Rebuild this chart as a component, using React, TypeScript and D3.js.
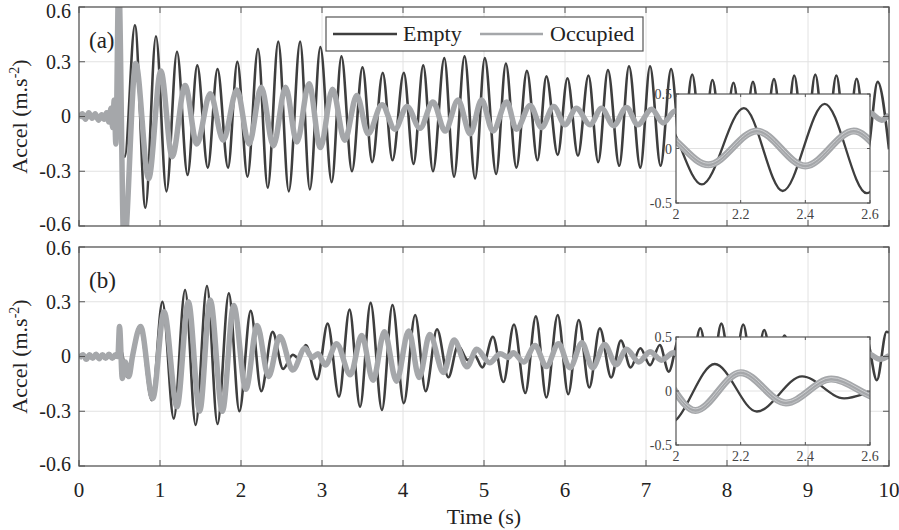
import * as d3 from 'd3';

type Pt = [number, number];

// extremes (time s, accel m/s^2), panel (a)
const emptyA: Pt[] = [
  [0, 0], [0.2, 0.003], [0.45, 0], [0.565, -0.22], [0.69, 0.5], [0.82, -0.5], [0.95, 0.44],
  [1.08, -0.41], [1.21, 0.355], [1.34, -0.32], [1.46, 0.28], [1.59, -0.28], [1.71, 0.26],
  [1.84, -0.28], [1.955, 0.3], [2.08, -0.33], [2.21, 0.37], [2.33, -0.39], [2.46, 0.41],
  [2.59, -0.41], [2.73, 0.41], [2.85, -0.4], [2.98, 0.38], [3.12, -0.36], [3.24, 0.33],
  [3.37, -0.3], [3.5, 0.27], [3.62, -0.25], [3.75, 0.24], [3.87, -0.24], [4.01, 0.24],
  [4.13, -0.26], [4.25, 0.28], [4.37, -0.3], [4.51, 0.32], [4.63, -0.33], [4.76, 0.33],
  [4.89, -0.34], [5.01, 0.32], [5.15, -0.315], [5.27, 0.29], [5.4, -0.28], [5.53, 0.25],
  [5.66, -0.24], [5.77, 0.22], [5.91, -0.21], [6.03, 0.21], [6.16, -0.215], [6.29, 0.225],
  [6.41, -0.25], [6.53, 0.255], [6.67, -0.27], [6.79, 0.275], [6.93, -0.28], [7.05, 0.275],
  [7.18, -0.27], [7.31, 0.26], [7.44, -0.25], [7.57, 0.23], [7.7, -0.22], [7.82, 0.2],
  [7.95, -0.19], [8.08, 0.185], [8.2, -0.18], [8.32, 0.19], [8.45, -0.2], [8.58, 0.205],
  [8.71, -0.215], [8.83, 0.225], [8.96, -0.23], [9.09, 0.23], [9.22, -0.225], [9.35, 0.225],
  [9.48, -0.215], [9.6, 0.207], [9.73, -0.195], [9.86, 0.19], [10, -0.18],
];

const occupiedA: Pt[] = [
  [0, -0.01], [0.04, 0.015], [0.08, -0.015], [0.12, 0.02], [0.16, -0.01], [0.2, 0.015],
  [0.24, -0.02], [0.28, 0.01], [0.31, -0.015], [0.34, 0.02], [0.37, -0.03], [0.395, 0.045],
  [0.415, -0.06], [0.435, 0.09], [0.455, -0.15], [0.49, 0.75], [0.555, -0.72], [0.7, 0.29],
  [0.86, -0.34], [1.01, 0.25], [1.15, -0.22], [1.31, 0.17], [1.455, -0.15], [1.62, 0.125],
  [1.78, -0.13], [1.95, 0.145], [2.1, -0.15], [2.25, 0.16], [2.4, -0.16], [2.55, 0.16],
  [2.69, -0.14], [2.84, 0.18], [2.98, -0.17], [3.13, 0.15], [3.28, -0.13], [3.43, 0.115],
  [3.57, -0.095], [3.74, 0.065], [3.9, -0.07], [4.05, 0.055], [4.21, -0.065], [4.37, 0.08],
  [4.52, -0.08], [4.68, 0.09], [4.83, -0.095], [4.97, 0.09], [5.11, -0.08], [5.28, 0.08],
  [5.4, -0.07], [5.57, 0.06], [5.71, -0.06], [5.86, 0.055], [6.0, -0.045], [6.14, 0.045],
  [6.31, -0.045], [6.45, 0.045], [6.6, -0.05], [6.76, 0.05], [6.9, -0.045], [7.07, 0.04],
  [7.21, -0.035], [7.36, 0.03], [7.51, -0.03], [7.66, 0.025], [7.81, -0.025], [7.96, 0.025],
  [8.11, -0.025], [8.26, 0.025], [8.41, -0.025], [8.56, 0.025], [8.71, -0.025], [8.86, 0.02],
  [9.01, -0.02], [9.16, 0.02], [9.31, -0.02], [9.46, 0.02], [9.61, -0.02], [9.76, 0.02],
  [9.91, -0.02], [10, 0.01],
];

// panel (b)
const emptyB: Pt[] = [
  [0, 0], [0.3, 0.003], [0.48, 0], [0.52, 0.03], [0.59, -0.11], [0.75, 0.167], [0.9, -0.24],
  [1.03, 0.3], [1.17, -0.34], [1.31, 0.364], [1.44, -0.375], [1.58, 0.386], [1.71, -0.37],
  [1.85, 0.346], [1.98, -0.3], [2.12, 0.25], [2.25, -0.19], [2.39, 0.135], [2.52, -0.068],
  [2.64, 0.01], [2.71, -0.01], [2.8, 0.063], [2.94, -0.125], [3.07, 0.18], [3.21, -0.22],
  [3.34, 0.257], [3.47, -0.275], [3.6, 0.294], [3.74, -0.293], [3.87, 0.282], [4.01, -0.256],
  [4.15, 0.227], [4.28, -0.19], [4.42, 0.149], [4.56, -0.114], [4.68, 0.06], [4.8, -0.02],
  [4.88, 0.01], [4.98, -0.06], [5.11, 0.108], [5.24, -0.14], [5.37, 0.175], [5.51, -0.2],
  [5.64, 0.22], [5.77, -0.225], [5.91, 0.227], [6.04, -0.207], [6.17, 0.2], [6.3, -0.17],
  [6.43, 0.154], [6.57, -0.115], [6.69, 0.088], [6.81, -0.06], [6.93, 0.045], [7.05, -0.047],
  [7.17, 0.063], [7.28, -0.083], [7.41, 0.1], [7.54, -0.12], [7.67, 0.155], [7.8, -0.15],
  [7.93, 0.18], [8.07, -0.16], [8.2, 0.175], [8.33, -0.15], [8.46, 0.145], [8.58, -0.12],
  [8.71, 0.115], [8.84, -0.09], [8.96, 0.085], [9.09, -0.07], [9.21, 0.065], [9.34, -0.07],
  [9.47, 0.08], [9.59, -0.09], [9.72, 0.1], [9.85, -0.13], [9.97, 0.136], [10, 0.13],
];

const occupiedB: Pt[] = [
  [0, -0.01], [0.05, 0.01], [0.09, -0.015], [0.13, 0.01], [0.17, -0.01], [0.21, 0.012],
  [0.25, -0.012], [0.29, 0.01], [0.33, -0.01], [0.37, 0.012], [0.41, -0.01], [0.45, 0.01],
  [0.48, 0], [0.5, 0.165], [0.535, -0.12], [0.57, -0.03], [0.615, -0.11], [0.66, 0],
  [0.76, 0.165], [0.91, -0.23], [1.05, 0.245], [1.21, -0.275], [1.35, 0.3], [1.49, -0.3],
  [1.62, 0.31], [1.77, -0.3], [1.91, 0.28], [2.06, -0.18], [2.2, 0.17], [2.34, -0.11],
  [2.48, 0.11], [2.64, -0.074], [2.79, 0.045], [2.88, -0.005], [2.95, 0.015], [3.04, -0.047],
  [3.18, 0.07], [3.35, -0.1], [3.49, 0.115], [3.63, -0.13], [3.77, 0.135], [3.92, -0.135],
  [4.07, 0.14], [4.2, -0.115], [4.33, 0.12], [4.5, -0.088], [4.63, 0.09], [4.79, -0.056],
  [4.91, 0.04], [5.07, -0.034], [5.2, 0.015], [5.3, -0.005], [5.36, 0.02], [5.49, -0.03],
  [5.63, 0.06], [5.77, -0.055], [5.92, 0.07], [6.06, -0.062], [6.21, 0.075], [6.34, -0.062],
  [6.49, 0.066], [6.63, -0.045], [6.76, 0.04], [6.91, -0.03], [7.05, 0.026], [7.19, -0.02],
  [7.34, 0.02], [7.49, -0.02], [7.64, 0.018], [7.79, -0.018], [7.94, 0.018], [8.09, -0.018],
  [8.24, 0.015], [8.39, -0.015], [8.54, 0.015], [8.69, -0.015], [8.84, 0.015], [8.99, -0.015],
  [9.14, 0.015], [9.29, -0.015], [9.44, 0.015], [9.59, -0.015], [9.74, 0.015], [9.89, -0.015],
  [10, 0.005],
];

const timeTicks = [0, 1, 2, 3, 4, 5, 6, 7, 8, 9, 10];
const accelTicks = [-0.6, -0.3, 0, 0.3, 0.6];
const insetTimeTicks = [2, 2.2, 2.4, 2.6];
const insetAccelTicks = [-0.5, 0, 0.5];

const FONT = '"Liberation Serif", "Times New Roman", serif';
const DARK = '#3e3e3e';
const GREY = '#a5a7aa';
const AXIS = '#555555';
const GRID = '#e2e2e2';

const LEFT = 79;
const RIGHT = 889;
const INSET_L = 676;
const INSET_R = 870;

const x = d3.scaleLinear().domain([0, 10]).range([LEFT, RIGHT]);
const xi = d3.scaleLinear().domain([2, 2.6]).range([INSET_L, INSET_R]);

interface PanelProps {
  id: string;
  top: number;
  bottom: number;
  insetTop: number;
  insetBottom: number;
  label: string;
  empty: Pt[];
  occupied: Pt[];
}

function Panel({ id, top, bottom, insetTop, insetBottom, label, empty, occupied }: PanelProps) {
  const y = d3.scaleLinear().domain([-0.6, 0.6]).range([bottom, top]);
  const yi = d3.scaleLinear().domain([-0.5, 0.5]).range([insetBottom, insetTop]);

  const line = d3
    .line<Pt>()
    .x((d) => x(d[0]))
    .y((d) => y(d[1]))
    .curve(d3.curveMonotoneX);
  const insetLine = d3
    .line<Pt>()
    .x((d) => xi(d[0]))
    .y((d) => yi(d[1]))
    .curve(d3.curveMonotoneX);
  const near = (d: Pt) => d[0] > 1.7 && d[0] < 2.9;
  const occInset = insetLine(occupied.filter(near)) ?? '';

  // keep the outermost tick labels inside the page and apart from the other panel's
  const labelY = (v: number) => {
    if (v === 0.6) return y(v) + (top < 20 ? 4 : 1.5);
    if (v === -0.6) return y(v) - 1.5;
    return y(v);
  };

  return (
    <g>
      <defs>
        <clipPath id={`clip-${id}`}>
          <rect x={LEFT} y={top} width={RIGHT - LEFT} height={bottom - top} />
        </clipPath>
        <clipPath id={`iclip-${id}`}>
          <rect x={INSET_L} y={insetTop} width={INSET_R - INSET_L} height={insetBottom - insetTop} />
        </clipPath>
      </defs>

      {timeTicks.slice(1, -1).map((t) => (
        <line key={`gx${t}`} x1={x(t)} x2={x(t)} y1={top} y2={bottom} stroke={GRID} />
      ))}
      {accelTicks.slice(1, -1).map((v) => (
        <line key={`gy${v}`} x1={LEFT} x2={RIGHT} y1={y(v)} y2={y(v)} stroke={GRID} />
      ))}

      <g clipPath={`url(#clip-${id})`}>
        <path d={line(empty) ?? ''} fill="none" stroke={DARK} strokeWidth={2.6} />
        <path d={line(occupied) ?? ''} fill="none" stroke={GREY} strokeWidth={5.5} strokeLinejoin="round" />
      </g>

      {timeTicks.map((t) => (
        <g key={`tx${t}`} stroke={AXIS}>
          <line x1={x(t)} x2={x(t)} y1={bottom} y2={bottom - 6} />
          <line x1={x(t)} x2={x(t)} y1={top} y2={top + 6} />
        </g>
      ))}
      {accelTicks.map((v) => (
        <g key={`ty${v}`} stroke={AXIS}>
          <line x1={LEFT} x2={LEFT + 6} y1={y(v)} y2={y(v)} />
          <line x1={RIGHT} x2={RIGHT - 6} y1={y(v)} y2={y(v)} />
        </g>
      ))}
      <rect x={LEFT} y={top} width={RIGHT - LEFT} height={bottom - top} fill="none" stroke={AXIS} strokeWidth={1.3} />

      {accelTicks.map((v) => (
        <text
          key={`ly${v}`}
          x={71}
          y={labelY(v)}
          dy="0.34em"
          textAnchor="end"
          fontSize={20}
          fill="#222"
        >
          {String(v)}
        </text>
      ))}
      <text
        transform={`translate(27,${(top + bottom) / 2}) rotate(-90)`}
        textAnchor="middle"
        fontSize={22}
        fill="#222"
      >
        Accel (m.s
        <tspan dy={-8} fontSize={14}>-2</tspan>
        <tspan dy={8}>)</tspan>
      </text>
      <text x={89} y={top + 41} fontSize={23} fill="#222">
        {label}
      </text>

      {/* inset: zoom on 2 - 2.6 s */}
      <rect x={INSET_L} y={insetTop} width={INSET_R - INSET_L} height={insetBottom - insetTop} fill="#fff" />
      {insetTimeTicks.slice(1, -1).map((t) => (
        <line key={`igx${t}`} x1={xi(t)} x2={xi(t)} y1={insetTop} y2={insetBottom} stroke={GRID} />
      ))}
      <line x1={INSET_L} x2={INSET_R} y1={yi(0)} y2={yi(0)} stroke={GRID} />
      <g clipPath={`url(#iclip-${id})`}>
        <path d={insetLine(empty.filter(near)) ?? ''} fill="none" stroke={DARK} strokeWidth={2.3} />
        <path d={occInset} fill="none" stroke={GREY} strokeWidth={7} />
        <path d={occInset} fill="none" stroke="#d3d4d6" strokeWidth={0.9} transform="translate(0,-1.6)" />
        <path d={occInset} fill="none" stroke="#c8c9cb" strokeWidth={0.8} transform="translate(0,1.8)" />
      </g>
      {insetTimeTicks.map((t) => (
        <g key={`itx${t}`} stroke={AXIS}>
          <line x1={xi(t)} x2={xi(t)} y1={insetBottom} y2={insetBottom - 3} />
          <line x1={xi(t)} x2={xi(t)} y1={insetTop} y2={insetTop + 3} />
        </g>
      ))}
      {insetAccelTicks.map((v) => (
        <g key={`ity${v}`} stroke={AXIS}>
          <line x1={INSET_L} x2={INSET_L + 3} y1={yi(v)} y2={yi(v)} />
          <line x1={INSET_R} x2={INSET_R - 3} y1={yi(v)} y2={yi(v)} />
        </g>
      ))}
      <rect
        x={INSET_L}
        y={insetTop}
        width={INSET_R - INSET_L}
        height={insetBottom - insetTop}
        fill="none"
        stroke={AXIS}
        strokeWidth={1.2}
      />
      {insetAccelTicks.map((v) => (
        <text key={`ily${v}`} x={672} y={yi(v)} dy="0.36em" textAnchor="end" fontSize={14} fill="#444">
          {String(v)}
        </text>
      ))}
      {insetTimeTicks.map((t) => (
        <text key={`ilx${t}`} x={xi(t)} y={insetBottom + 16} textAnchor="middle" fontSize={14} fill="#444">
          {String(t)}
        </text>
      ))}
    </g>
  );
}

export default function App() {
  return (
    <svg
      width={899}
      height={530}
      style={{ position: 'absolute', left: 0, top: 0, background: '#fff' }}
      fontFamily={FONT}
    >
      <rect width={899} height={530} fill="#fff" />
      <Panel
        id="a"
        top={7}
        bottom={226}
        insetTop={94}
        insetBottom={203}
        label="(a)"
        empty={emptyA}
        occupied={occupiedA}
      />
      <Panel
        id="b"
        top={247}
        bottom={466}
        insetTop={337}
        insetBottom={445}
        label="(b)"
        empty={emptyB}
        occupied={occupiedB}
      />

      {timeTicks.map((t) => (
        <text key={`lx${t}`} x={x(t)} y={497} textAnchor="middle" fontSize={21} fill="#222">
          {String(t)}
        </text>
      ))}
      <text x={(LEFT + RIGHT) / 2} y={524} textAnchor="middle" fontSize={22} fill="#222">
        Time (s)
      </text>

      {/* legend */}
      <g>
        <rect x={326} y={17} width={317} height={34} fill="#fff" stroke={AXIS} strokeWidth={1.2} />
        <line x1={333} x2={397} y1={34} y2={34} stroke={DARK} strokeWidth={2.6} />
        <text x={403} y={41} fontSize={22} fill="#222">
          Empty
        </text>
        <line x1={480} x2={543} y1={34} y2={34} stroke={GREY} strokeWidth={2.6} />
        <text x={550} y={41} fontSize={22} fill="#222">
          Occupied
        </text>
      </g>
    </svg>
  );
}
